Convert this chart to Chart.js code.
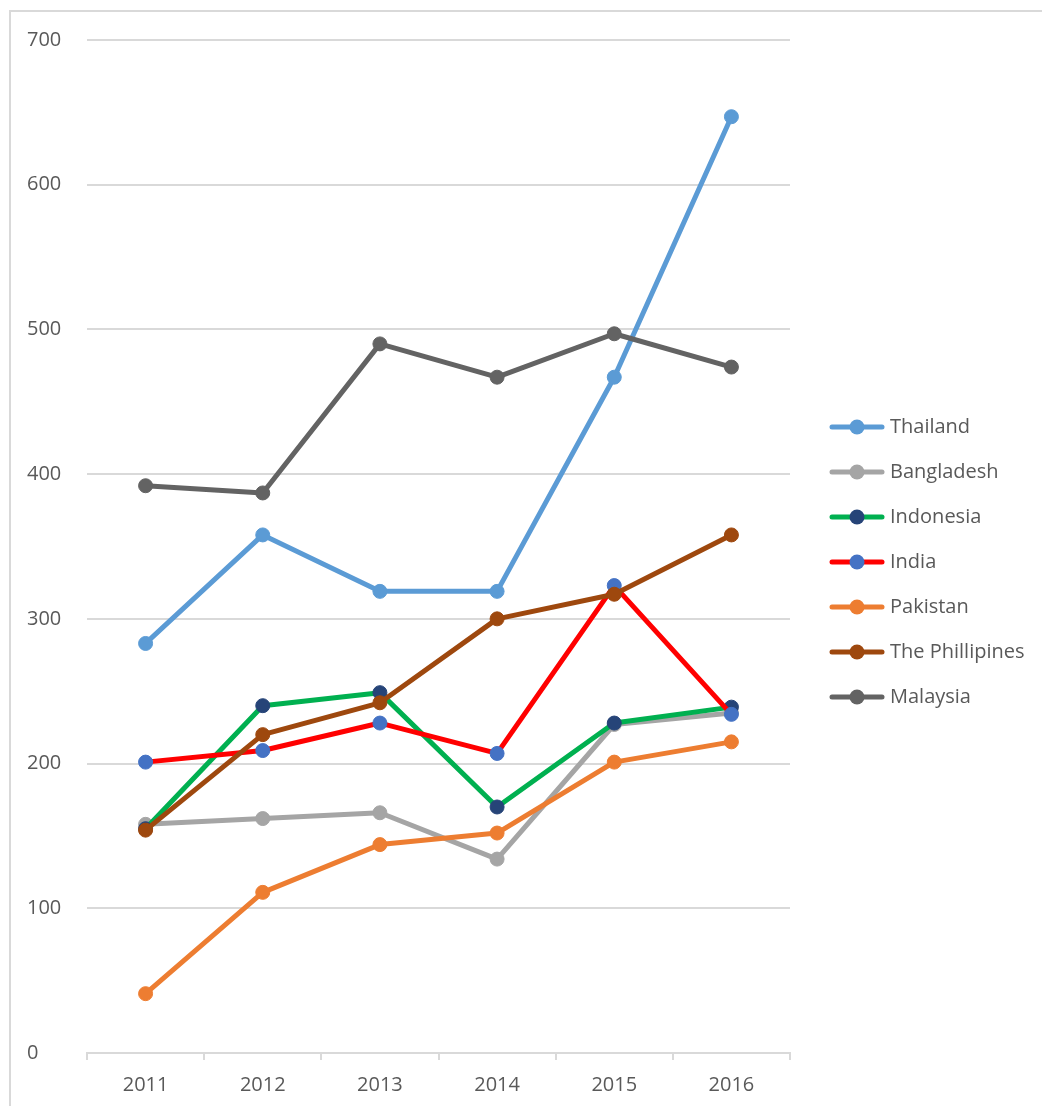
<!DOCTYPE html>
<html>
<head>
<meta charset="utf-8">
<script src="https://cdn.jsdelivr.net/npm/chart.js@4.4.1/dist/chart.umd.min.js"></script>
<style>
    html, body { margin: 0; padding: 0; background: #fff; overflow: hidden; }
    #frame { position: absolute; left: 9px; top: 10px; width: 1100px; height: 1200px; border: 2px solid #d9d9d9; }
    #wrap { position: absolute; left: 0; top: 0; width: 1042px; height: 1106px; }
</style>
</head>
<body>
<div id="frame"></div>
<div id="wrap"><canvas id="grafico"></canvas></div>
<script>
// years on the x axis
const anos = ['2011', '2012', '2013', '2014', '2015', '2016'];
const yTicks = [0, 100, 200, 300, 400, 500, 600, 700];

// values
const thailand    = [283, 358, 319, 319, 467, 647];
const bangladesh  = [158, 162, 166, 134, 227, 235];
const indonesia   = [155, 240, 249, 170, 228, 239];
const india       = [201, 209, 228, 207, 323, 234];
const pakistan    = [41, 111, 144, 152, 201, 215];
const philippines = [154, 220, 242, 300, 317, 358];
const malaysia    = [392, 387, 490, 467, 497, 474];

const series = [
    { label: 'Thailand', data: thailand, line: '#5B9BD5', dot: '#5B9BD5' },
    { label: 'Bangladesh', data: bangladesh, line: '#A5A5A5', dot: '#A5A5A5' },
    { label: 'Indonesia', data: indonesia, line: '#00B050', dot: '#264478' },
    { label: 'India', data: india, line: '#FF0000', dot: '#4472C4' },
    { label: 'Pakistan', data: pakistan, line: '#ED7D31', dot: '#ED7D31' },
    { label: 'The Phillipines', data: philippines, line: '#9E480E', dot: '#9E480E' },
    { label: 'Malaysia', data: malaysia, line: '#636363', dot: '#636363' }
];

const fonte = '"Open Sans", "Liberation Sans", sans-serif';
const cinza = '#595959';

// legend symbol: line with a dot in the middle (excel style)
function simbolo(line, dot) {
    const c = document.createElement('canvas');
    c.width = 56; c.height = 18;
    const g = c.getContext('2d');
    g.strokeStyle = line;
    g.lineWidth = 5;
    g.lineCap = 'round';
    g.beginPath(); g.moveTo(3, 9); g.lineTo(53, 9); g.stroke();
    g.fillStyle = dot;
    g.beginPath(); g.arc(28, 9, 7.5, 0, Math.PI * 2); g.fill();
    return c;
}
const simbolos = series.map(s => simbolo(s.line, s.dot));

// room for the legend on the right
const medida = document.createElement('canvas').getContext('2d');
medida.font = '20px ' + fonte;
let maiorTexto = 0;
series.forEach(s => { maiorTexto = Math.max(maiorTexto, medida.measureText(s.label).width); });
const larguraLegenda = 25 + 46 + 10 + maiorTexto + 10;
const padDireita = Math.max(0, 1042 - 809 - larguraLegenda);

const ctx = document.getElementById('grafico');

new Chart(ctx, {
    type: 'line',
    data: {
        labels: anos,
        datasets: series.map((s, i) => ({
            label: s.label,
            data: s.data,
            borderColor: s.line,
            backgroundColor: s.dot,
            pointBackgroundColor: s.dot,
            pointBorderColor: s.dot,
            pointBorderWidth: 1,
            pointRadius: 7,
            pointStyle: 'circle',
            borderWidth: 5,
            borderJoinStyle: 'round',
            borderCapStyle: 'round',
            order: series.length - i,
            fill: false,
            tension: 0
        }))
    },
    options: {
        responsive: true,
        maintainAspectRatio: false,
        animation: false,
        layout: { padding: { left: 27, top: 18, right: padDireita, bottom: 0 } },
        plugins: {
            tooltip: { enabled: false },
            title: {
                display: true,
                text: ' ',
                font: { size: 10, lineHeight: 1 },
                padding: { top: 0, bottom: 12 }
            },
            legend: {
                position: 'right',
                labels: {
                    usePointStyle: true,
                    pointStyleWidth: 46,
                    padding: 25,
                    color: cinza,
                    font: { family: fonte, size: 20 },
                    generateLabels: function (chart) {
                        const itens = Chart.defaults.plugins.legend.labels.generateLabels(chart);
                        itens.forEach(it => { it.pointStyle = simbolos[it.datasetIndex]; });
                        return itens;
                    },
                    sort: (a, b) => a.datasetIndex - b.datasetIndex
                }
            }
        },
        scales: {
            x: {
                offset: true,
                grid: {
                    offset: true,
                    drawOnChartArea: false,
                    drawTicks: true,
                    tickLength: 7,
                    color: '#d9d9d9',
                    lineWidth: 2
                },
                border: { display: true, color: '#d9d9d9', width: 2 },
                ticks: { color: cinza, padding: 13, font: { family: fonte, size: 20 } },
                afterFit: function (scale) { scale.height = 53; }
            },
            y: {
                min: 0,
                max: 700,
                afterBuildTicks: function (scale) { scale.ticks = yTicks.map(v => ({ value: v })); },
                grid: { color: '#d9d9d9', lineWidth: 2, drawTicks: false },
                border: { display: false },
                ticks: { color: cinza, crossAlign: 'far', padding: 0, font: { family: fonte, size: 20 } },
                afterFit: function (scale) { scale.width = 60; }
            },
            espaco: {
                type: 'linear',
                position: 'right',
                display: false,
                afterFit: function (scale) { scale.width = 19; }
            }
        }
    }
});
</script>
</body>
</html>
